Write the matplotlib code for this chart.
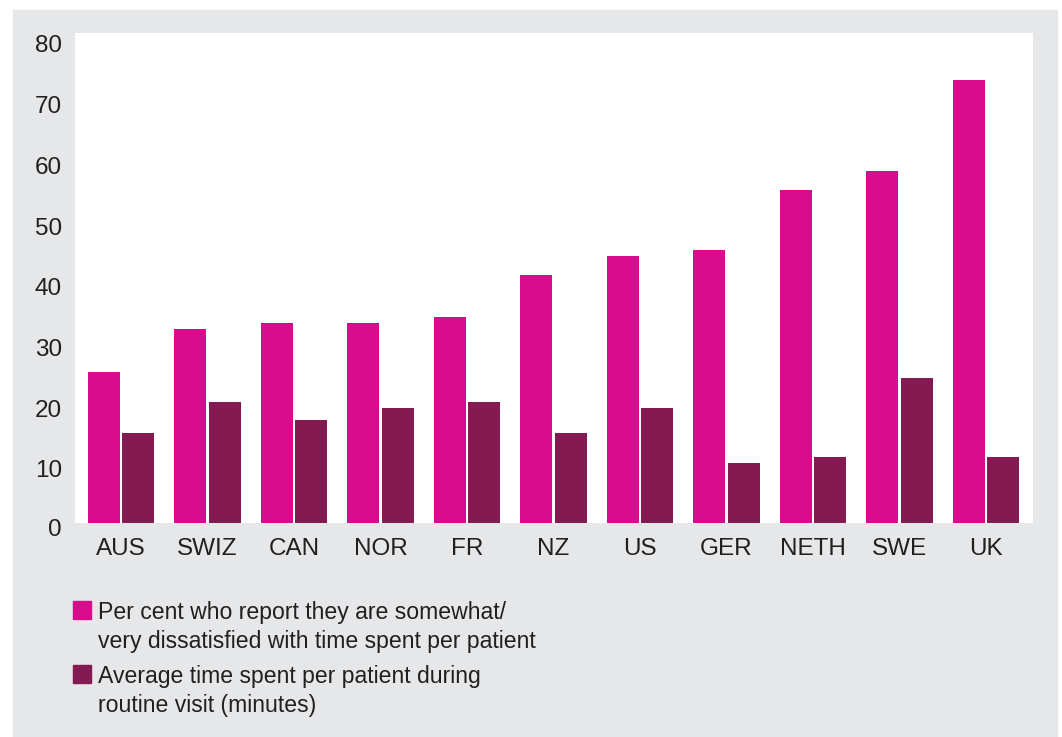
import matplotlib
matplotlib.use("Agg")
import matplotlib.pyplot as plt
from matplotlib.patches import Rectangle
import numpy as np

categories = ["AUS", "SWIZ", "CAN", "NOR", "FR", "NZ", "US", "GER", "NETH", "SWE", "UK"]
dissatisfied = [26, 33, 34, 34, 35, 42, 45, 46, 56, 59, 74]
minutes = [16, 21, 18, 20, 21, 16, 20, 11, 12, 25, 12]
yticks = [0, 10, 20, 30, 40, 50, 60, 70, 80]
legend_labels = ["Per cent who report they are somewhat/\nvery dissatisfied with time spent per patient",
                 "Average time spent per patient during\nroutine visit (minutes)"]

PINK = "#d60c8c"
PURPLE = "#841a52"
GRAY = "#e6e7e9"
TXT = "#231f20"

plt.rcParams['font.family'] = ['Liberation Sans', 'DejaVu Sans']

W, H = 1062, 737
fig = plt.figure(figsize=(W / 100, H / 100), dpi=100, facecolor="white")
fig.patches.append(Rectangle((13 / W, 0), (1057 - 13) / W, (H - 10) / H,
                             transform=fig.transFigure, color=GRAY, zorder=-10))

ax = fig.add_axes([75 / W, 1 - 523 / H, 958 / W, 490 / H])
ax.set_zorder(1)
ax.set_facecolor("white")

x = np.arange(len(categories))
w = 0.37
off = 0.197
b1 = ax.bar(x - off, dissatisfied, width=w, color=PINK, label=legend_labels[0])
b2 = ax.bar(x + off, minutes, width=w, color=PURPLE, label=legend_labels[1])

ax.set_xlim(-0.532, 10.543)
ax.set_ylim(1.1, 81.8)
ax.set_xticks(x)
ax.set_xticklabels(categories, fontsize=17.5, color=TXT)
ax.set_yticks(yticks[1:])
ax.set_yticklabels([str(v) for v in yticks[1:]], fontsize=17.5, color=TXT)
ax.tick_params(axis='both', length=0)
ax.tick_params(axis='y', pad=9.5)
ax.tick_params(axis='x', pad=11)
# the zero label sits below the baseline in the original
ax.text(-13 / 958, yticks[0], str(yticks[0]), transform=ax.get_yaxis_transform(),
        ha='right', va='center', fontsize=17.5, color=TXT, clip_on=False)
for s in ax.spines.values():
    s.set_visible(False)

# legend drawn manually: square aligned with the first line of each entry
entry_tops = [601, 665]
line_gap = 29
for top, lab, col in zip(entry_tops, legend_labels, [PINK, PURPLE]):
    fig.patches.append(Rectangle((73 / W, 1 - (top + 18) / H), 18 / W, 18 / H,
                                 transform=fig.transFigure, color=col, zorder=2))
    for k, line in enumerate(lab.split("\n")):
        fig.text(98 / W, 1 - (top + 18 + k * line_gap) / H, line,
                 fontsize=16.6, color=TXT, va='baseline', ha='left')

fig.savefig("out.png", dpi=100, facecolor=fig.get_facecolor())
